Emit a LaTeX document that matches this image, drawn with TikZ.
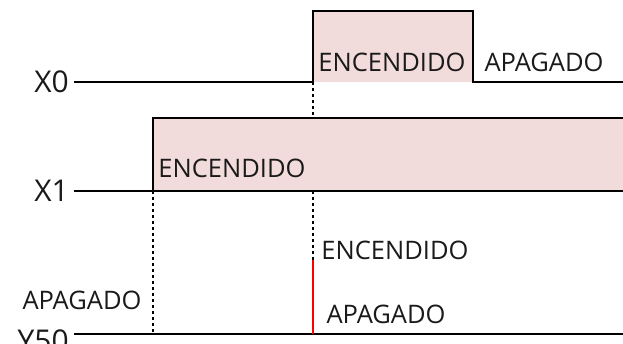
\documentclass[tikz,border=0pt]{standalone}
\usepackage{fontspec}
\setmainfont{Open Sans}
\definecolor{pulsefill}{HTML}{F2DCDB}
\definecolor{txt}{HTML}{1A1A1A}
\begin{document}
\begin{tikzpicture}[x=1pt,y=-1pt,
  sig/.style={line width=2.2pt,black},
  dotv/.style={line width=2.2pt,black,dash pattern=on 3pt off 3pt},
  lbl/.style={font=\fontsize{25.5}{25.5}\selectfont,text=txt,inner sep=0pt},
  nm/.style={font=\fontsize{30}{30}\selectfont,text=txt,inner sep=0pt}]
\useasboundingbox (0,0) rectangle (623,344);
% coordinates
\coordinate (x0s) at (74,82);
\coordinate (x0a) at (313,82);
\coordinate (x0b) at (313,11);
\coordinate (x0c) at (473,11);
\coordinate (x0d) at (473,82);
\coordinate (x0e) at (623,82);
\coordinate (x1s) at (74,191);
\coordinate (x1a) at (153,191);
\coordinate (x1b) at (153,118);
\coordinate (x1c) at (626,118);
\coordinate (x1e) at (623,191);
\coordinate (ys) at (74,334);
\coordinate (ye) at (623,334);
\coordinate (r1) at (313,260);
\coordinate (r0) at (313,334);
\coordinate (d1a) at (313,118);
\coordinate (d1b) at (313,191);
\coordinate (d2) at (153,334);
% fills
\fill[pulsefill] (x0a) rectangle (x0c);
\fill[pulsefill] (x1a) rectangle (x1c);
% signals
\draw[sig] (x0s) -- (x0a) -- (x0b) -- (x0c) -- (x0d) -- (x0e);
\draw[sig] (x1s) -- (x1a) -- (x1b) -- (x1c);
\draw[sig] (x1a) -- (x1e);
\draw[sig] (ys) -- (ye);
% dotted
\draw[dotv] (x0a) -- (d1a);
\draw[dotv] (d1b) -- (r1);
\draw[dotv] (x1a) -- (d2);
\draw[line width=2.2pt,red] (r1) -- (r0);
% labels
\node[nm,anchor=east] (lx0) at (69,82) {X0};
\node[nm,anchor=east] (lx1) at (69,191) {X1};
\node[nm,anchor=east] (ly) at (69,341) {Y50};
\node[lbl] (t1) at (392,62) {ENCENDIDO};
\node[lbl] (t2) at (544,62) {APAGADO};
\node[lbl] (t3) at (232,168) {ENCENDIDO};
\node[lbl] (t4) at (395,250) {ENCENDIDO};
\node[lbl] (t5) at (386,314) {APAGADO};
\node[lbl] (t6) at (82,300) {APAGADO};
\end{tikzpicture}
\end{document}
